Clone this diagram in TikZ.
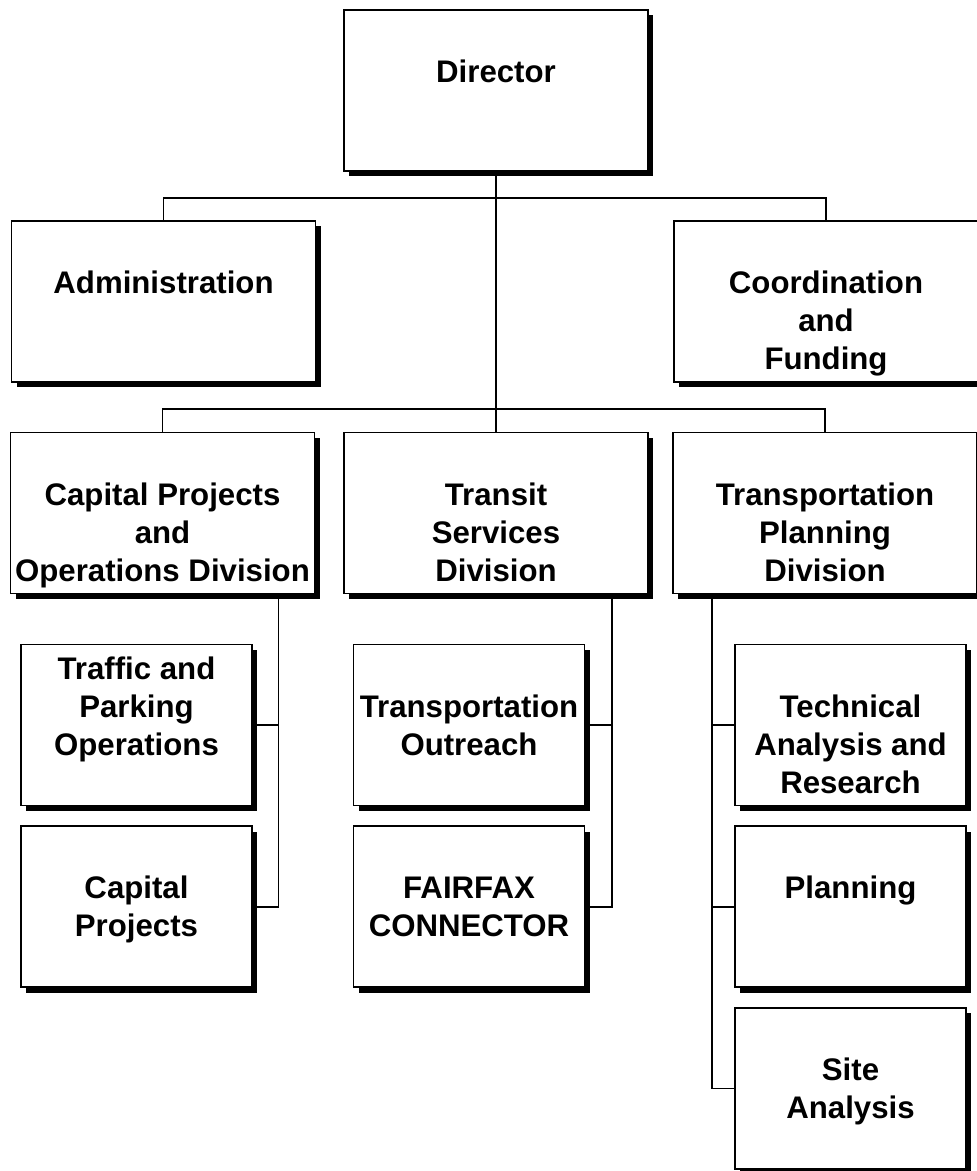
\documentclass[tikz,border=0pt]{standalone}
\usepackage{fontspec}
\setmainfont{Liberation Sans}
\usetikzlibrary{positioning,shadows}
\newcommand{\ls}{\rule[-5.95pt]{0pt}{28.5pt}}

\begin{document}
\begin{tikzpicture}[x=0.75pt,y=-0.75pt,
  every node/.style={font=\bfseries\fontsize{23.4}{28.5}\selectfont},
  unit/.style={draw,line width=1.3pt,fill=white,align=center,inner sep=0pt,
    minimum height=120.75pt,
    drop shadow={shadow xshift=4pt,shadow yshift=-4pt,fill=black,opacity=1}},
  wide/.style={unit,minimum width=228pt},
  narrow/.style={unit,minimum width=173.25pt},
  link/.style={line width=1.2pt}]
\useasboundingbox (0,0) rectangle (976,1171);

% top levels
\node[wide] (dir) at (496,90.5) {\ls Director\\\ls};
\node[wide] (adm) at (163.5,301.5) {\ls\\Administration\\~\\\ls};
\node[wide] (cof) at (826,301.5) {\ls\\Coordination\\and\\Funding\ls};
\node[wide] (cpo) at (162.5,513) {\ls\\Capital Projects\\and\\Operations Division\ls};
\node[wide] (tsd) at (496,513) {\ls\\Transit\\Services\\Division\ls};
\node[wide] (tpd) at (825,513) {\ls\\Transportation\\Planning\\Division\ls};

% sections
\node[narrow] (tpo) at (136.5,725) {\ls Traffic and\\Parking\\Operations\\\ls};
\node[narrow, below=14.25pt of tpo] (cap) {\ls Capital\\Projects\ls};
\node[narrow] (out) at (469,725) {\ls Transportation\\Outreach\ls};
\node[narrow, below=14.25pt of out] (ffx) {\ls FAIRFAX\\CONNECTOR\ls};
\node[narrow] (tar) at (850.5,725) {\ls\\Technical\\Analysis and\\Research\ls};
\node[narrow, below=14.25pt of tar] (pln) {\ls Planning\\\ls};
\node[narrow, below=14.25pt of pln] (sit) {\ls Site\\Analysis\ls};

% connectors
\coordinate (top) at (496,198);
\coordinate (mid) at (496,409);
\draw[link] (dir.south) -- (tsd.north);
\draw[link] (adm.north) |- (top) -| (cof.north);
\draw[link] (cpo.north) |- (mid) -| (tpd.north);
\draw[link] ([xshift=-27.75pt]cpo.south east) |- (tpo.east);
\draw[link] ([xshift=-27.75pt]cpo.south east) |- (cap.east);
\draw[link] ([xshift=-27.75pt]tsd.south east) |- (out.east);
\draw[link] ([xshift=-27.75pt]tsd.south east) |- (ffx.east);
\draw[link] ([xshift=30pt]tpd.south west) |- (tar.west);
\draw[link] ([xshift=30pt]tpd.south west) |- (pln.west);
\draw[link] ([xshift=30pt]tpd.south west) |- (sit.west);
\end{tikzpicture}
\end{document}
